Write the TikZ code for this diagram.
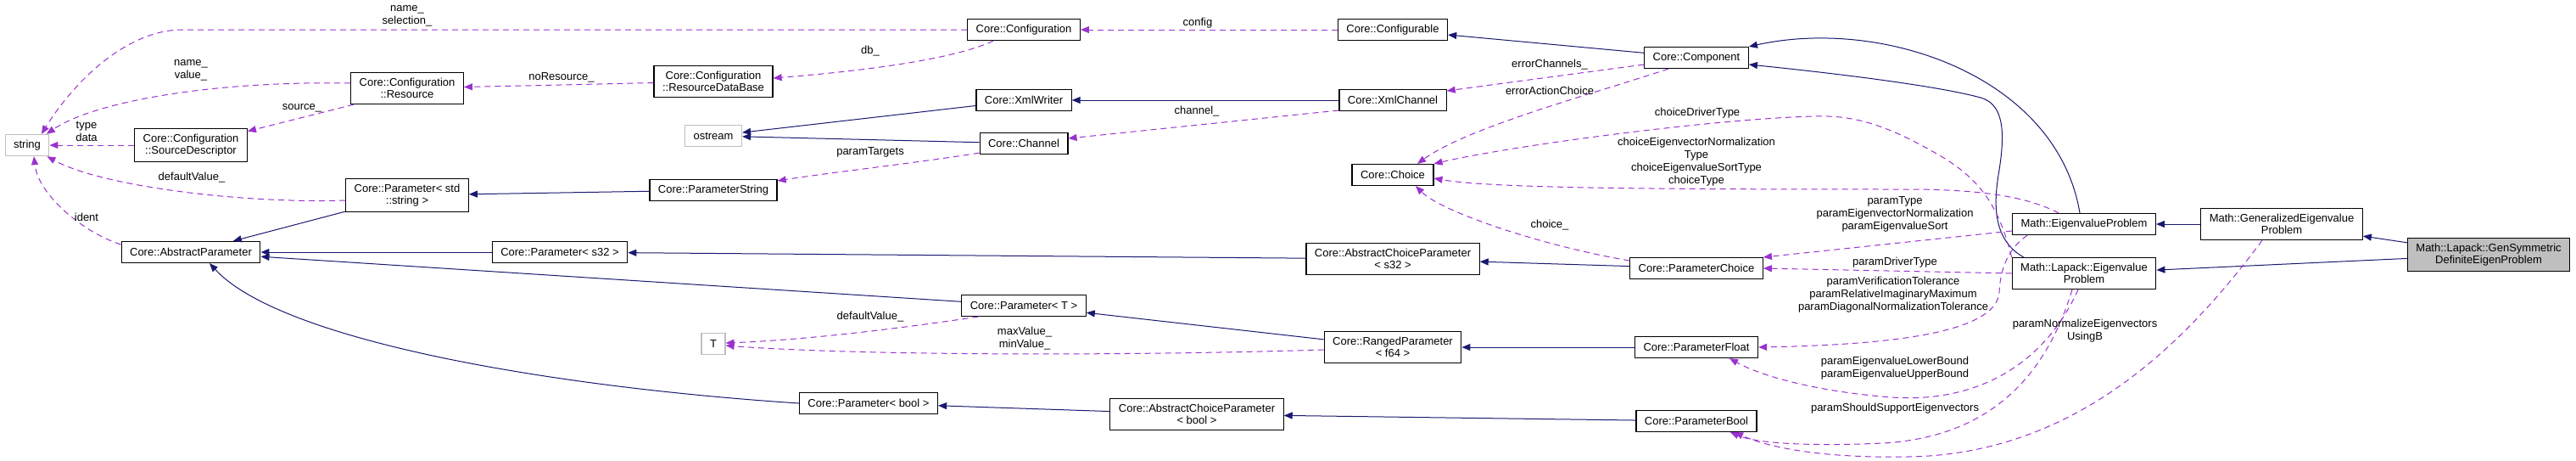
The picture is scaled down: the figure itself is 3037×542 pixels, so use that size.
\documentclass[tikz,border=0pt]{standalone}
\usepackage{fontspec}
\setmainfont{Liberation Sans}
\usetikzlibrary{arrows.meta}

\definecolor{inhblue}{HTML}{191970}
\definecolor{usepurple}{HTML}{9A32CD}
\definecolor{extgray}{HTML}{BFBFBF}

\tikzset{
  cls/.style={draw=black, line width=1.2pt, fill=white, align=center, inner xsep=10pt, inner ysep=6.5pt, minimum height=25pt, font=\fontsize{13}{14.5}\selectfont},
  ext/.style={cls, draw=extgray},
  focus/.style={cls, fill=extgray},
  lbl/.style={align=center, inner sep=0pt, font=\fontsize{13}{15}\selectfont},
  inh/.style={draw=inhblue, line width=1pt, -{Triangle[length=10pt,width=8pt]}},
  usage/.style={draw=usepurple, line width=1pt, dash pattern=on 7pt off 5pt, -{Triangle[length=10pt,width=8pt]}}
}

\begin{document}
\begin{tikzpicture}[x=1pt,y=-1pt]
\path[use as bounding box, fill=white] (0,0) rectangle (3037,542);

%%%%% Core classes, left
\node[ext] (string) at (32,171) {string};
\node[cls] (sourcedesc) at (225,171) {Core::Configuration\\::SourceDescriptor};
\node[cls] (resource) at (480,104) {Core::Configuration\\::Resource};
\node[cls] (paramstdstring) at (480,230) {Core::Parameter< std\\::string >};
\node[cls] (abstractparam) at (225,297) {Core::AbstractParameter};
\node[cls] (params32) at (660,297) {Core::Parameter< s32 >};

\node[cls] (resourcedb) at (841,96) {Core::Configuration\\::ResourceDataBase};
\node[ext] (ostream) at (841,160) {ostream};
\node[cls] (paramstring) at (841,224) {Core::ParameterString};
\node[ext] (T) at (841,405) {T};
\node[cls] (parambool) at (1024,475) {Core::Parameter< bool >};

\node[cls] (configuration) at (1207,35) {Core::Configuration};
\node[cls] (xmlwriter) at (1207,118) {Core::XmlWriter};
\node[cls] (channel) at (1207,169) {Core::Channel};
\node[cls] (paramT) at (1207,360) {Core::Parameter< T >};
\node[cls] (abschoicebool) at (1411,488) {Core::AbstractChoiceParameter\\< bool >};

%%%%% Core classes, middle
\node[cls] (configurable) at (1642,35) {Core::Configurable};
\node[cls] (xmlchannel) at (1642,118) {Core::XmlChannel};
\node[cls] (choice) at (1642,206) {Core::Choice};
\node[cls] (abschoices32) at (1642,305) {Core::AbstractChoiceParameter\\< s32 >};
\node[cls] (ranged) at (1642,409) {Core::RangedParameter\\< f64 >};

\node[cls] (component) at (2000,68) {Core::Component};
\node[cls] (paramchoice) at (2000,316) {Core::ParameterChoice};
\node[cls] (paramfloat) at (2000,409) {Core::ParameterFloat};
\node[cls] (paramboolcore) at (2000,496) {Core::ParameterBool};

%%%%% Math classes
\node[cls] (eigenproblem) at (2457,264) {Math::EigenvalueProblem};
\node[cls] (lapackeigen) at (2457,322) {Math::Lapack::Eigenvalue\\Problem};
\node[cls] (geneigen) at (2690,264) {Math::GeneralizedEigenvalue\\Problem};
\node[focus] (gensym) at (2934,300) {Math::Lapack::GenSymmetric\\DefiniteEigenProblem};

%%%%% inheritance
\draw[inh] (paramstdstring) -- (abstractparam); \draw[inh] (params32) -- (abstractparam); \draw[inh] (paramT) -- (abstractparam);
\draw[inh] (parambool.west) .. controls (640,455) and (330,400) .. ([xshift=22pt]abstractparam.south);
\draw[inh] (paramstring) -- (paramstdstring); \draw[inh] (xmlwriter) -- (ostream); \draw[inh] (channel) -- (ostream);
\draw[inh] (abschoices32) -- (params32); \draw[inh] (ranged) -- (paramT); \draw[inh] (abschoicebool) -- (parambool);
\draw[inh] (component) -- (configurable); \draw[inh] (xmlchannel) -- (xmlwriter);
\draw[inh] (paramchoice) -- (abschoices32); \draw[inh] (paramfloat) -- (ranged); \draw[inh] (paramboolcore) -- (abschoicebool);
\draw[inh] ([xshift=-5pt]eigenproblem.north) .. controls (2425,90) and (2220,20) .. (component.north east);
\draw[inh] ([xshift=14pt]lapackeigen.north west) .. controls (2345,280) and (2352,230) .. (2357,200) .. controls (2365,150) and (2360,122) .. (2335,115) .. controls (2280,100) and (2150,85) .. ([yshift=-8pt]component.east);
\draw[inh] (geneigen) -- (eigenproblem); \draw[inh] (gensym) -- (geneigen); \draw[inh] (gensym) -- (lapackeigen);

%%%%% usage, left part
\draw[usage] (configuration.west) -- (215,35) .. controls (150,35) and (88,95) .. (string.38);
\draw[usage] ([yshift=6pt]resource.west) .. controls (250,95) and (110,120) .. (string.30);
\draw[usage] ([xshift=4pt]resource.south west) -- ([yshift=-4pt]sourcedesc.north east);
\draw[usage] (sourcedesc) -- (string);
\draw[usage] ([yshift=-6pt]paramstdstring.west) .. controls (290,240) and (120,220) .. ([xshift=-3pt]string.south east);
\draw[usage] ([yshift=-4pt]abstractparam.north west) .. controls (100,275) and (45,230) .. ([xshift=8pt]string.south);
\draw[usage] (resourcedb) -- (resource);
\draw[usage] ([xshift=-36pt]configuration.south) .. controls (1120,72) and (1000,85) .. ([yshift=4pt]resourcedb.east);
\draw[usage] ([yshift=2pt]channel.south west) .. controls (1080,192) and (980,203) .. ([yshift=11pt]paramstring.east);
\draw[usage] (configurable) -- (configuration);
\draw[usage] ([yshift=-12pt]xmlchannel.west) -- ([yshift=6pt]channel.east);
\draw[usage] ([xshift=20pt]paramT.south west) .. controls (1080,384) and (960,400) .. ([yshift=1pt]T.east);
\draw[usage] ([yshift=-3pt]ranged.west) .. controls (1300,420) and (1000,418) .. ([yshift=-2pt]T.east);

\node[lbl] (l-namesel) at (480,19) {name\_\\selection\_};
\node[lbl] (l-nameval) at (225,83) {name\_\\value\_};
\node[lbl] (l-source) at (356,127) {source\_};
\node[lbl] (l-typedata) at (102,155) {type\\data};
\node[lbl] (l-default) at (226,209) {defaultValue\_};
\node[lbl] (l-ident) at (102,256) {ident};
\node[lbl] (l-nores) at (662,91) {noResource\_};
\node[lbl] (l-db) at (1026,60) {db\_};
\node[lbl] (l-targets) at (1026,179) {paramTargets};
\node[lbl] (l-config) at (1412,27) {config};
\node[lbl] (l-channel) at (1411,131) {channel\_};
\node[lbl] (l-defaultT) at (1026,373) {defaultValue\_};
\node[lbl] (l-minmax) at (1208,399) {maxValue\_\\minValue\_};

%%%%% usage, right part
\draw[usage] ([yshift=-8pt]component.west) -- ([yshift=11pt]xmlchannel.east);
\draw[usage] ([xshift=-33pt]component.south) .. controls (1880,110) and (1730,150) .. ([xshift=29pt]choice.north);
\draw[usage] (lapackeigen.north west) .. controls (2358,250) and (2340,215) .. (2290,185) .. controls (2230,150) and (2190,135) .. (2138,137) .. controls (2020,140) and (1780,172) .. (choice.north east);
\draw[usage] ([xshift=-30pt]eigenproblem.north) .. controls (2390,232) and (2340,224) .. (2260,223) .. controls (1950,223) and (1760,222) .. ([yshift=-4pt]choice.east);
\draw[usage] ([yshift=9pt]paramchoice.west) .. controls (1820,290) and (1700,250) .. ([xshift=27pt]choice.south);
\draw[usage] ([yshift=-8pt]eigenproblem.west) -- ([yshift=13pt]paramchoice.east);
\draw[usage] (lapackeigen.west) -- (paramchoice.east);
\draw[usage] ([xshift=-67pt]eigenproblem.south) .. controls (2365,295) and (2358,320) .. (2357,345) .. controls (2352,392) and (2230,406) .. (paramfloat.east);
\draw[usage] ([xshift=-7pt]lapackeigen.south) .. controls (2410,430) and (2330,475) .. (2230,468) .. controls (2150,462) and (2080,445) .. ([xshift=39pt]paramfloat.south);
\draw[usage] ([xshift=-14pt]lapackeigen.south) .. controls (2410,450) and (2340,515) .. (2220,522) .. controls (2130,526) and (2070,522) .. ([xshift=40pt]paramboolcore.south);
\draw[usage] ([xshift=-23pt]geneigen.south) .. controls (2580,400) and (2450,535) .. (2250,538) .. controls (2140,540) and (2080,525) .. ([xshift=45pt]paramboolcore.south);

\node[lbl] (l-errch) at (1827,76) {errorChannels\_};
\node[lbl] (l-erract) at (1827,107) {errorActionChoice};
\node[lbl] (l-drivertype) at (2001,133) {choiceDriverType};
\node[lbl] (l-choices) at (2000,191) {choiceEigenvectorNormalization\\Type\\choiceEigenvalueSortType\\choiceType};
\node[lbl] (l-choice) at (1827,265) {choice\_};
\node[lbl] (l-paramtype) at (2234,252) {paramType\\paramEigenvectorNormalization\\paramEigenvalueSort};
\node[lbl] (l-paramdriver) at (2234,309) {paramDriverType};
\node[lbl] (l-tolerance) at (2232,347) {paramVerificationTolerance\\paramRelativeImaginaryMaximum\\paramDiagonalNormalizationTolerance};
\node[lbl] (l-bounds) at (2234,434) {paramEigenvalueLowerBound\\paramEigenvalueUpperBound};
\node[lbl] (l-support) at (2234,481) {paramShouldSupportEigenvectors};
\node[lbl] (l-usingb) at (2458,390) {paramNormalizeEigenvectors\\UsingB};

\end{tikzpicture}
\end{document}
